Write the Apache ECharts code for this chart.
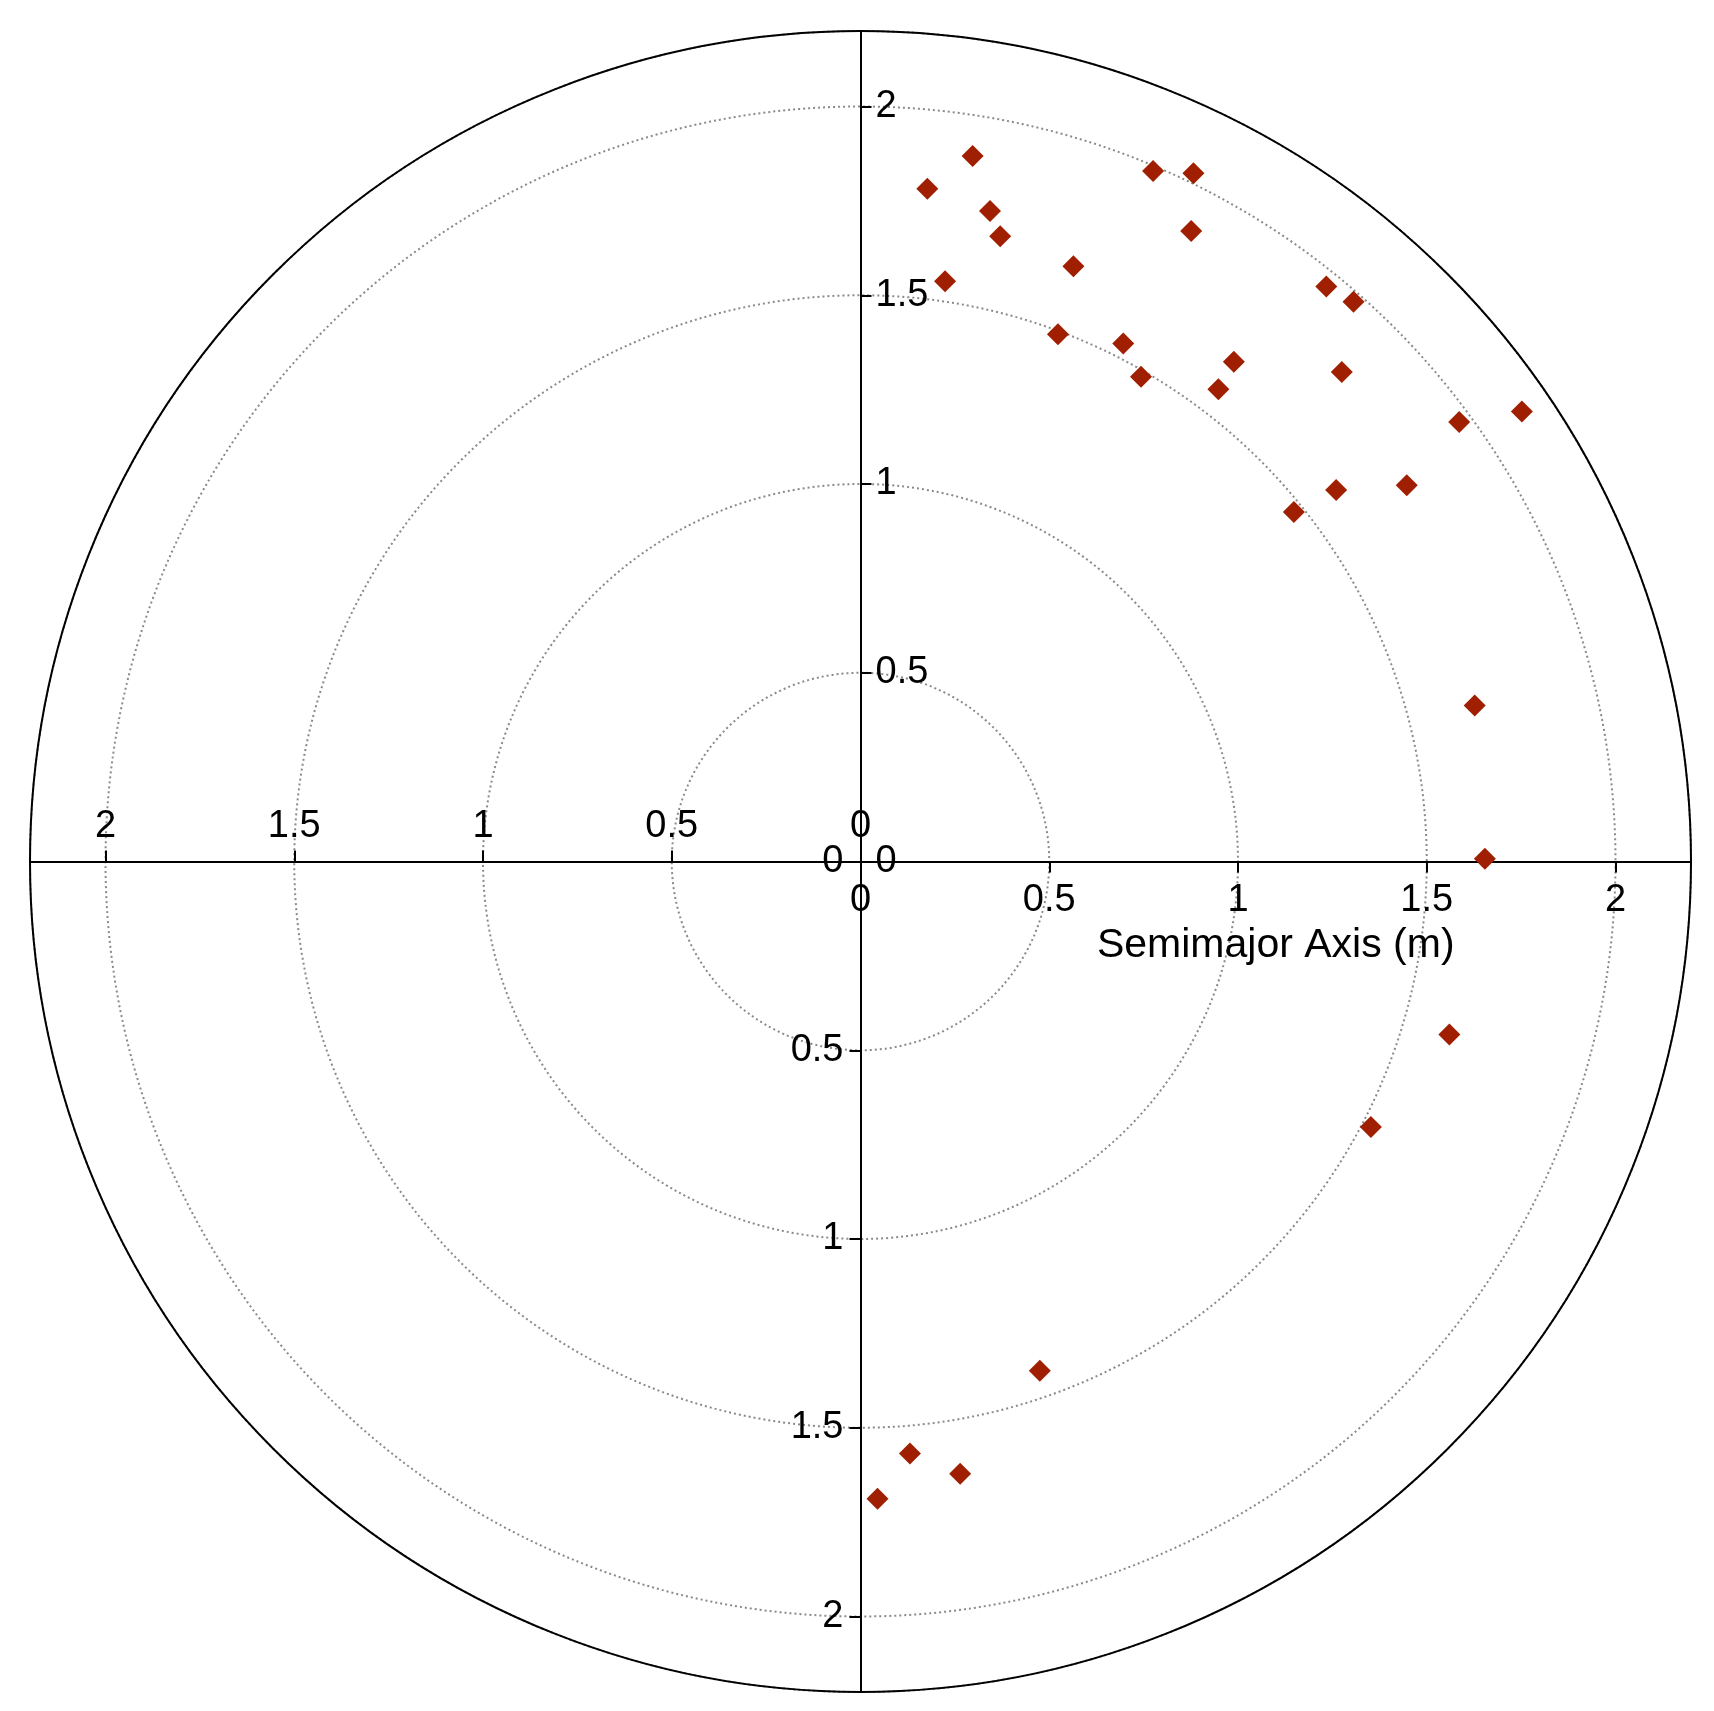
<!DOCTYPE html>
<html>
<head>
<meta charset="utf-8">
<script src="https://cdn.jsdelivr.net/npm/echarts@6/dist/echarts.min.js"></script>
<style>
html,body{margin:0;padding:0;background:#fff;}
#chart{width:1714px;height:1711px;}
</style>
</head>
<body>
<div id="chart"></div>
<script>
// Point coordinates (x, y) in metres
const xValues = [0.297, 0.177, 0.343, 0.370, 0.564, 0.224, 0.775, 0.882, 0.876, 0.523,
                 1.234, 1.306, 0.989, 0.948, 1.275, 1.586, 1.752, 1.260, 1.447, 1.148,
                 0.696, 0.743, 1.627, 1.654, 1.560, 1.352, 0.475, 0.131, 0.264, 0.045];
const yValues = [1.869, 1.782, 1.723, 1.656, 1.577, 1.537, 1.829, 1.823, 1.670, 1.397,
                 1.523, 1.483, 1.324, 1.251, 1.297, 1.164, 1.192, 0.984, 0.997, 0.926,
                 1.372, 1.284, 0.413, 0.007, -0.458, -0.703, -1.349, -1.568, -1.622, -1.688];
const posTicks = [0, 0.5, 1, 1.5, 2];
const negTicks = [-2, -1.5, -1, -0.5, 0];
const axisMax = 2.2;
const axisName = 'Semimajor Axis (m)';

const data = xValues.map((x, i) => [x, yValues[i]]);

const FONT = "'Liberation Sans', Arial, sans-serif";
const lineStyle = {color: '#000', width: 2};
const labelStyle = {color: '#000', fontSize: 38, fontFamily: FONT};
const fmtAbs = v => String(Math.abs(v));

const chart = echarts.init(document.getElementById('chart'));
const cx = 860.5, cy = 861.5, R = 830.5;

const gridBase = {containLabel: false, outerBoundsMode: 'none', show: false};

function visAxis(extra) {
  return Object.assign({
    type: 'value',
    axisLine: {show: true, onZero: false, lineStyle: lineStyle},
    splitLine: {show: false}
  }, extra);
}

chart.setOption({
  backgroundColor: '#fff',
  animation: false,
  grid: [
    // full plot area for the data
    Object.assign({left: cx - R, top: cy - R, width: 2 * R, height: 2 * R}, gridBase),
    // upper-right quadrant: positive x (labels below) and positive y (labels right)
    Object.assign({left: cx, top: cy - R, width: R, height: R}, gridBase),
    // lower-left quadrant: negative x (labels above) and negative y (labels left)
    Object.assign({left: cx - R, top: cy, width: R, height: R}, gridBase)
  ],
  polar: {center: [cx, cy], radius: [0, R]},
  angleAxis: {
    type: 'value', min: 0, max: 360, startAngle: 90,
    axisLine: {show: true, lineStyle: lineStyle},
    axisTick: {show: false}, axisLabel: {show: false}, splitLine: {show: false}
  },
  radiusAxis: {
    type: 'value', min: 0, max: axisMax, interval: 0.5,
    axisLine: {show: false}, axisTick: {show: false}, axisLabel: {show: false},
    splitLine: {show: true, lineStyle: {color: '#8a8a8a', width: 2, type: [2, 3]}}
  },
  xAxis: [
    {type: 'value', gridIndex: 0, min: -axisMax, max: axisMax, show: false},
    visAxis({
      gridIndex: 1, position: 'bottom', min: 0, max: axisMax,
      axisTick: {show: true, length: 11, lineStyle: lineStyle, customValues: posTicks},
      axisLabel: {customValues: posTicks, margin: 20, showMinLabel: true, ...labelStyle, formatter: fmtAbs},
      name: axisName, nameLocation: 'middle', nameGap: 64,
      nameTextStyle: {...labelStyle, fontSize: 41}
    }),
    visAxis({
      gridIndex: 2, position: 'top', min: -axisMax, max: 0,
      axisTick: {show: true, length: 11, lineStyle: lineStyle, customValues: negTicks},
      axisLabel: {customValues: negTicks, margin: 16, showMaxLabel: true, ...labelStyle, formatter: fmtAbs}
    })
  ],
  yAxis: [
    {type: 'value', gridIndex: 0, min: -axisMax, max: axisMax, show: false},
    visAxis({
      gridIndex: 1, position: 'left', min: 0, max: axisMax,
      axisTick: {show: true, inside: true, length: 11, lineStyle: lineStyle, customValues: posTicks},
      axisLabel: {customValues: posTicks, inside: true, margin: 15, showMinLabel: true, ...labelStyle, formatter: fmtAbs}
    }),
    visAxis({
      gridIndex: 2, position: 'right', min: -axisMax, max: 0,
      axisTick: {show: true, inside: true, length: 11, lineStyle: lineStyle, customValues: negTicks},
      axisLabel: {customValues: negTicks, inside: true, margin: 17, showMaxLabel: true, ...labelStyle, formatter: fmtAbs}
    })
  ],
  series: [{
    type: 'scatter', xAxisIndex: 0, yAxisIndex: 0,
    symbol: 'diamond', symbolSize: 22,
    itemStyle: {color: '#a01f00', opacity: 1},
    data: data, z: 5
  }]
});
</script>
</body>
</html>
